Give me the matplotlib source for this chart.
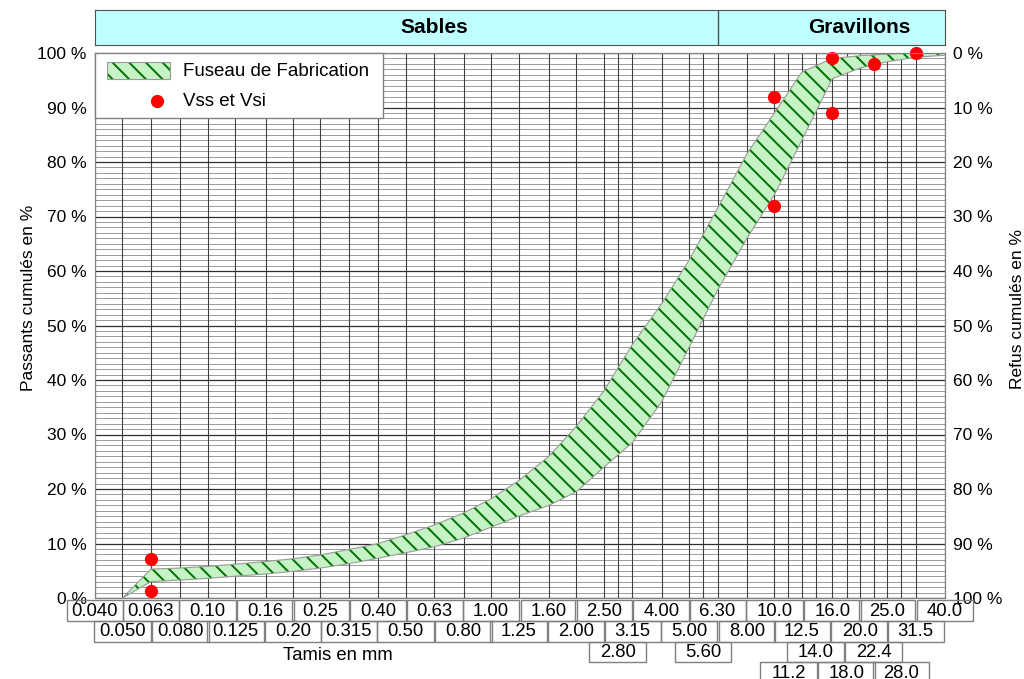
import matplotlib
matplotlib.use("Agg")
import matplotlib.pyplot as plt
from matplotlib.patches import Rectangle
from matplotlib.lines import Line2D
from matplotlib.ticker import NullLocator

plt.rcParams['font.family'] = ['Liberation Sans', 'DejaVu Sans']
plt.rcParams['hatch.linewidth'] = 1.4
plt.rcParams['hatch.color'] = '#007000'

# ---------------- data ----------------
labels_row1 = ["0.040", "0.063", "0.10", "0.16", "0.25", "0.40", "0.63", "1.00",
               "1.60", "2.50", "4.00", "6.30", "10.0", "16.0", "25.0", "40.0"]
labels_row2 = ["0.050", "0.080", "0.125", "0.20", "0.315", "0.50", "0.80", "1.25",
               "2.00", "3.15", "5.00", "8.00", "12.5", "20.0", "31.5"]
labels_row3 = ["2.80", "5.60", "14.0", "22.4"]
labels_row4 = ["11.2", "18.0", "28.0"]

fuseau_sieves = [0.05, 0.063, 0.08, 0.10, 0.125, 0.16, 0.20, 0.25, 0.315, 0.40,
                 0.50, 0.63, 0.80, 1.00, 1.25, 1.60, 2.00, 2.50, 3.15, 4.00,
                 5.00, 6.30, 8.00, 10.0, 12.5, 16.0, 20.0, 25.0, 31.5, 40.0]
fuseau_lower = [0.0, 3.0, 3.3, 3.6, 4.0, 4.4, 4.9, 5.5, 6.3, 7.3,
                8.3, 9.4, 11.0, 13.0, 15.0, 17.0, 19.5, 24.0, 28.5, 36.0,
                46.0, 56.5, 66.0, 74.0, 84.0, 95.3, 97.2, 98.4, 99.2, 99.6]
fuseau_upper = [0.0, 5.3, 5.5, 5.8, 6.2, 6.7, 7.2, 7.9, 8.9, 10.0,
                11.6, 13.4, 15.6, 18.2, 21.5, 26.0, 31.5, 38.0, 46.5, 54.0,
                62.0, 71.5, 81.5, 89.0, 96.5, 99.0, 99.5, 99.8, 100.0, 100.0]

vs_sieves = [0.063, 0.063, 10.0, 10.0, 16.0, 16.0, 22.4, 31.5]
vs_values = [7.2, 1.2, 92.0, 72.0, 99.0, 89.0, 98.0, 100.0]

y_ticks = list(range(0, 101, 10))

# ---------------- layout helpers ----------------
W, H = 1024, 679
def fx(px):
    return px / W
def fy(py):
    return 1 - py / H

fig = plt.figure(figsize=(10.24, 6.79), dpi=100)

X0, X1 = 0.04, 40.0
step = 10 ** 0.1

# main axes
ax = fig.add_axes([fx(95), fy(598), 850 / W, 545 / H])
ax.set_xscale('log')
ax.set_xlim(X0, X1)
ax.set_ylim(0, 100)

grid_sieves = [float(s) for s in labels_row1 + labels_row2 + labels_row3 + labels_row4]
for s in grid_sieves:
    ax.axvline(s, color='#404040', lw=0.8, zorder=0.5)
for p in range(0, 101):
    if p % 10 == 0:
        ax.axhline(p, color='#303030', lw=0.9, zorder=0.6)
    else:
        ax.axhline(p, color='#8c8c8c', lw=0.6, zorder=0.4)

ax.fill_between(fuseau_sieves, fuseau_lower, fuseau_upper, facecolor='#c6f3c6',
                edgecolor='#007000', linewidth=0, hatch='\\\\', zorder=2)
ax.plot(fuseau_sieves, fuseau_lower, color='#9a9a9a', lw=0.8, zorder=3)
ax.plot(fuseau_sieves, fuseau_upper, color='#9a9a9a', lw=0.8, zorder=3)
ax.plot(vs_sieves, vs_values, 'o', color='#ff0000', markersize=9.5,
        markeredgewidth=0, zorder=4, clip_on=False)

ax.xaxis.set_major_locator(NullLocator())
ax.xaxis.set_minor_locator(NullLocator())
ax.set_yticks(y_ticks)
ax.set_yticklabels([f"{v} %" for v in y_ticks])
ax.yaxis.set_minor_locator(NullLocator())
ax.tick_params(axis='y', length=0, pad=6, labelsize=12.5)
for sp in ax.spines.values():
    sp.set_color('#808080')
ax.set_ylabel("Passants cumulés en %", fontsize=12.5)
ax.yaxis.set_label_coords(-0.069, 0.55)

ax2 = ax.twinx()
ax2.set_ylim(0, 100)
ax2.set_yticks(y_ticks)
ax2.set_yticklabels([f"{100 - v} %" for v in y_ticks])
ax2.yaxis.set_minor_locator(NullLocator())
ax2.tick_params(axis='y', length=0, pad=6, labelsize=12.5)
for sp in ax2.spines.values():
    sp.set_color('#808080')
ax2.set_ylabel("Refus cumulés en %", fontsize=12.5)
ax2.yaxis.set_label_coords(1.0765, 0.53)

# header band
hx = fig.add_axes([fx(95), fy(45), 850 / W, 35 / H])
hx.set_xscale('log')
hx.set_xlim(X0, X1)
hx.set_ylim(0, 1)
hx.set_facecolor('#c0ffff')
hx.xaxis.set_major_locator(NullLocator())
hx.xaxis.set_minor_locator(NullLocator())
hx.set_yticks([])
for sp in hx.spines.values():
    sp.set_color('#505050')
hx.axvline(6.3, color='#505050', lw=1)
hx.text(0.63, 0.5, "Sables", ha='center', va='center', fontsize=15, fontweight='bold')
hx.text(20.0, 0.5, "Gravillons", ha='center', va='center', fontsize=15, fontweight='bold')

# sieve label boxes
bx = fig.add_axes([fx(95), 0, 850 / W, (H - 600) / H])
bx.set_xscale('log')
bx.set_xlim(X0, X1)
bx.set_ylim(H, 600)
bx.axis('off')
rows = [(labels_row1, 600, 621), (labels_row2, 621, 642),
        (labels_row3, 642, 662), (labels_row4, 662, 683)]
for labs, y0, y1 in rows:
    for lab in labs:
        s = float(lab)
        bx.add_patch(Rectangle((s / step, y0), s * step - s / step, y1 - y0,
                               fill=False, edgecolor='#808080', lw=1, clip_on=False))
        bx.text(s, (y0 + y1) / 2 + 0.5, lab, ha='center', va='center',
                fontsize=13.3, clip_on=False)

fig.text(fx(338), fy(656), "Tamis en mm", ha='center', va='center', fontsize=13.3)

# legend (manual)
fig.patches.append(Rectangle((fx(95), fy(118)), 288 / W, 65 / H, transform=fig.transFigure,
                             facecolor='white', edgecolor='#808080', lw=1, zorder=5))
fig.patches.append(Rectangle((fx(107), fy(79)), 63 / W, 17 / H, transform=fig.transFigure,
                             facecolor='#c6f3c6', edgecolor='#007000', lw=0, hatch='\\\\',
                             zorder=6))
fig.patches.append(Rectangle((fx(107), fy(79)), 63 / W, 17 / H, transform=fig.transFigure,
                             fill=False, edgecolor='#9a9a9a', lw=0.8, zorder=7))
fig.lines.append(Line2D([fx(157)], [fy(101)], marker='o', color='#ff0000', markersize=9.5,
                        markeredgewidth=0, transform=fig.transFigure, zorder=7))
fig.text(fx(183), fy(72), "Fuseau de Fabrication", ha='left', va='center', fontsize=13.5, zorder=8)
fig.text(fx(183), fy(101), "Vss et Vsi", ha='left', va='center', fontsize=13.5, zorder=8)

fig.savefig("out.png", dpi=100)
